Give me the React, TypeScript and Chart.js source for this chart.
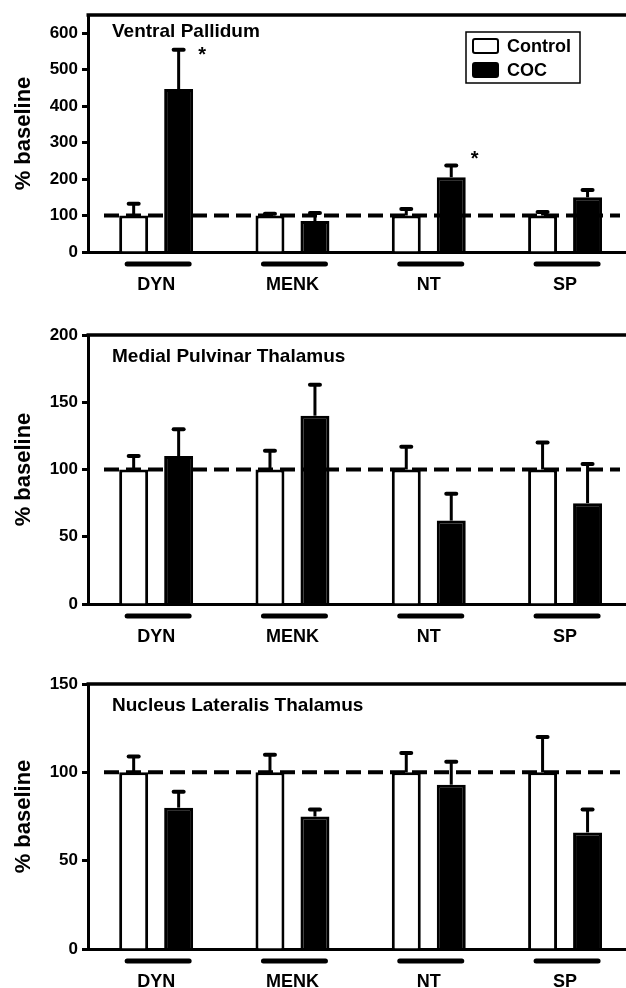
import React, { useEffect, useRef } from "react";
import { Chart, registerables } from "chart.js";

Chart.register(...registerables);

const FONT = "'Liberation Sans', Arial, Helvetica, sans-serif";

const categories = ["DYN", "MENK", "NT", "SP"];
const seriesNames = ["Control", "COC"];
const baselineValue = 100;

// Ventral Pallidum
const vpTitle = "Ventral Pallidum";
const vpControl = [100, 100, 100, 100];
const vpControlErr = [32, 5, 18, 10];
const vpCoc = [447, 85, 205, 150];
const vpCocErr = [108, 22, 32, 20];
const vpStars = [550, null, 265, null];
const vpTicks = [0, 100, 200, 300, 400, 500, 600];
const vpMax = 650;

// Medial Pulvinar Thalamus
const mpTitle = "Medial Pulvinar Thalamus";
const mpControl = [100, 100, 100, 100];
const mpControlErr = [10, 14, 17, 20];
const mpCoc = [110, 140, 62, 75];
const mpCocErr = [20, 23, 20, 29];
const mpStars = [null, null, null, null];
const mpTicks = [0, 50, 100, 150, 200];
const mpMax = 200;

// Nucleus Lateralis Thalamus
const nlTitle = "Nucleus Lateralis Thalamus";
const nlControl = [100, 100, 100, 100];
const nlControlErr = [9, 10, 11, 20];
const nlCoc = [80, 75, 93, 66];
const nlCocErr = [9, 4, 13, 13];
const nlStars = [null, null, null, null];
const nlTicks = [0, 50, 100, 150];
const nlMax = 150;

type PanelProps = {
  title: string;
  control: number[];
  controlErr: number[];
  coc: number[];
  cocErr: number[];
  stars: (number | null)[];
  ticks: number[];
  max: number;
  legend: boolean;
  top: number;
  height: number;
  areaTop: number;
  areaBottom: number;
  titleOffset: number;
};

function Panel(p: PanelProps) {
  const ref = useRef<HTMLCanvasElement | null>(null);
  useEffect(() => {
    const canvas = ref.current;
    if (!canvas) return;
    const xAxisHeight = p.height - p.areaBottom;

    const panelPlugin = {
      id: "panelDecor",
      afterDatasetsDraw(chart: any) {
        const ctx = chart.ctx;
        const area = chart.chartArea;
        const ys = chart.scales.y;
        const xs = chart.scales.x;
        ctx.save();
        // dashed baseline
        const by = ys.getPixelForValue(baselineValue);
        ctx.strokeStyle = "#000";
        ctx.lineWidth = 4;
        ctx.setLineDash([15, 7]);
        ctx.beginPath();
        ctx.moveTo(area.left + 16, by);
        ctx.lineTo(area.right - 6, by);
        ctx.stroke();
        ctx.setLineDash([]);
        // error bars
        chart.data.datasets.forEach((ds: any, di: number) => {
          const meta = chart.getDatasetMeta(di);
          meta.data.forEach((el: any, i: number) => {
            const v = ds.data[i].y;
            const e = ds.errors[i];
            const yTop = ys.getPixelForValue(v + e);
            ctx.lineWidth = 3;
            ctx.lineCap = "butt";
            ctx.beginPath();
            ctx.moveTo(el.x, el.y);
            ctx.lineTo(el.x, yTop);
            ctx.stroke();
            ctx.lineWidth = 4;
            ctx.lineCap = "round";
            ctx.beginPath();
            ctx.moveTo(el.x - 5, yTop);
            ctx.lineTo(el.x + 5, yTop);
            ctx.stroke();
          });
        });
        // significance stars
        const cocMeta = chart.getDatasetMeta(1);
        ctx.fillStyle = "#000";
        ctx.font = `bold 20px ${FONT}`;
        ctx.textAlign = "center";
        ctx.textBaseline = "middle";
        p.stars.forEach((s, i) => {
          if (s == null) return;
          const el: any = cocMeta.data[i];
          ctx.fillText("*", el.x + el.width / 2 + 9, ys.getPixelForValue(s) + 4);
        });
        // category underlines
        ctx.lineWidth = 5;
        ctx.lineCap = "round";
        categories.forEach((_, i) => {
          const cx = xs.getPixelForValue(i);
          const yy = area.bottom + 12;
          ctx.beginPath();
          ctx.moveTo(cx - 29, yy);
          ctx.lineTo(cx + 33, yy);
          ctx.stroke();
        });
        // top frame line
        ctx.lineCap = "butt";
        ctx.lineWidth = 3.5;
        ctx.beginPath();
        ctx.moveTo(area.left - 1.5, area.top);
        ctx.lineTo(area.right, area.top);
        ctx.stroke();
        // panel title
        ctx.textAlign = "left";
        ctx.textBaseline = "alphabetic";
        ctx.font = `bold 19px ${FONT}`;
        ctx.fillText(p.title, area.left + 24, area.top + p.titleOffset);
        // legend
        if (p.legend) {
          const bx = area.right - 160;
          const by2 = area.top + 17;
          const bw = 114;
          const bh = 51;
          ctx.lineWidth = 1.5;
          ctx.strokeRect(bx, by2, bw, bh);
          chart.data.datasets.forEach((ds: any, di: number) => {
            const sy = by2 + 7 + di * 24;
            ctx.fillStyle = ds.backgroundColor;
            ctx.strokeStyle = "#000";
            ctx.lineWidth = 2;
            ctx.beginPath();
            (ctx as any).roundRect(bx + 7, sy, 25, 14, 2);
            ctx.fill();
            ctx.stroke();
            ctx.fillStyle = "#000";
            ctx.font = `bold 18px ${FONT}`;
            ctx.textBaseline = "middle";
            ctx.fillText(ds.label, bx + 41, sy + 8);
          });
        }
        ctx.restore();
      },
    };

    const makeData = (vals: number[]) => categories.map((_, i) => ({ x: i, y: vals[i] }));

    const chart = new Chart(canvas, {
      type: "bar",
      data: {
        datasets: [
          {
            label: seriesNames[0],
            data: makeData(p.control),
            backgroundColor: "#ffffff",
            borderColor: "#000000",
            borderWidth: 3,
            categoryPercentage: 0.66,
            barPercentage: 0.644,
            errors: p.controlErr,
          } as any,
          {
            label: seriesNames[1],
            data: makeData(p.coc),
            backgroundColor: "#000000",
            borderColor: "#000000",
            borderWidth: 3,
            categoryPercentage: 0.66,
            barPercentage: 0.644,
            errors: p.cocErr,
          } as any,
        ],
      },
      options: {
        responsive: false,
        animation: false,
        events: [],
        layout: { padding: { top: p.areaTop, left: 0, right: 0, bottom: 0 } },
        plugins: {
          legend: { display: false },
          tooltip: { enabled: false },
          title: { display: false },
        },
        scales: {
          x: {
            type: "linear",
            min: -0.5,
            max: 3.447,
            offset: false,
            grid: { display: false, offset: false },
            border: { display: true, color: "#000", width: 3 },
            ticks: {
              color: "#000",
              font: { family: FONT, size: 18, weight: "bold" },
              padding: 14,
              autoSkip: false,
              maxRotation: 0,
              callback: (v: any) => categories[v] ?? "",
            },
            afterBuildTicks: (s: any) => {
              s.ticks = categories.map((_, i) => ({ value: i }));
            },
            afterFit: (s: any) => {
              s.height = xAxisHeight;
            },
          } as any,
          y: {
            min: 0,
            max: p.max,
            grid: {
              drawOnChartArea: false,
              drawTicks: true,
              tickLength: 6,
              tickWidth: 3,
              tickColor: "#000",
            },
            border: { display: true, color: "#000", width: 3 },
            ticks: {
              color: "#000",
              font: { family: FONT, size: 17, weight: "bold" },
              padding: 4,
            },
            title: {
              display: true,
              text: "% baseline",
              color: "#000",
              font: { family: FONT, size: 22, weight: "bold" },
              padding: { top: 11, bottom: 0 },
            },
            afterBuildTicks: (s: any) => {
              s.ticks = p.ticks.map((v) => ({ value: v }));
            },
            afterFit: (s: any) => {
              s.width = 88;
            },
          } as any,
        },
      },
      plugins: [panelPlugin],
    });
    return () => chart.destroy();
  }, []);

  return (
    <canvas
      ref={ref}
      width={626}
      height={p.height}
      style={{ position: "absolute", left: 0, top: p.top, width: 626, height: p.height }}
    />
  );
}

export default function App() {
  return (
    <div
      style={{
        position: "absolute",
        left: 0,
        top: 0,
        width: 626,
        height: 988,
        background: "#fff",
        overflow: "hidden",
      }}
    >
      <Panel
        title={vpTitle}
        control={vpControl}
        controlErr={vpControlErr}
        coc={vpCoc}
        cocErr={vpCocErr}
        stars={vpStars}
        ticks={vpTicks}
        max={vpMax}
        legend={true}
        top={0}
        height={300}
        areaTop={15}
        areaBottom={252}
        titleOffset={22}
      />
      <Panel
        title={mpTitle}
        control={mpControl}
        controlErr={mpControlErr}
        coc={mpCoc}
        cocErr={mpCocErr}
        stars={mpStars}
        ticks={mpTicks}
        max={mpMax}
        legend={false}
        top={300}
        height={345}
        areaTop={35}
        areaBottom={304}
        titleOffset={27}
      />
      <Panel
        title={nlTitle}
        control={nlControl}
        controlErr={nlControlErr}
        coc={nlCoc}
        cocErr={nlCocErr}
        stars={nlStars}
        ticks={nlTicks}
        max={nlMax}
        legend={false}
        top={645}
        height={343}
        areaTop={39}
        areaBottom={304}
        titleOffset={27}
      />
    </div>
  );
}
